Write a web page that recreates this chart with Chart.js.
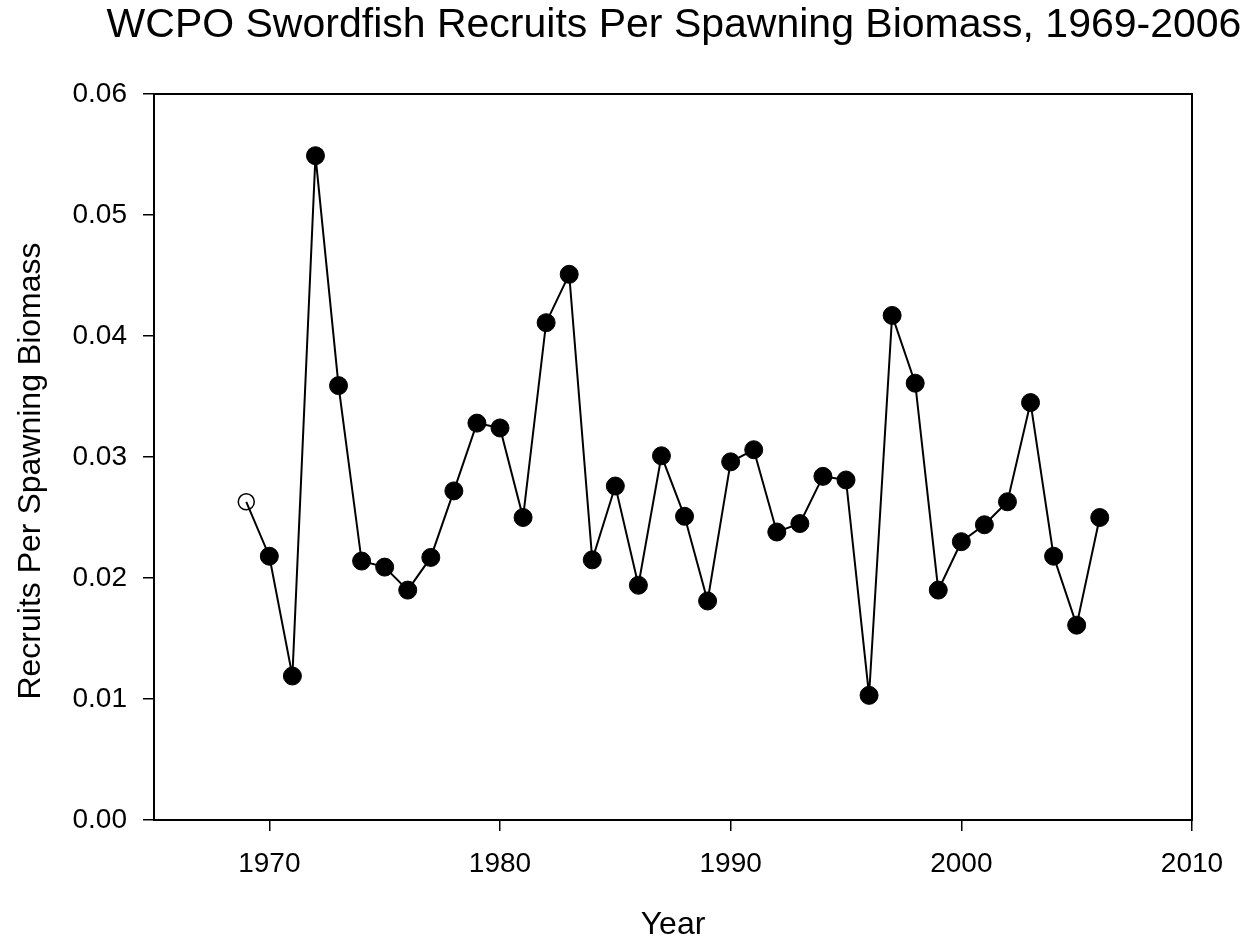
<!DOCTYPE html>
<html>
<head>
<meta charset="utf-8">
<script src="https://cdn.jsdelivr.net/npm/chart.js@4.4.1/dist/chart.umd.min.js"></script>
<style>
  body { margin: 0; background: #fff; }
  #wrap { width: 1253px; height: 944px; }
</style>
</head>
<body>
<div id="wrap"><canvas id="rpsChart" width="1253" height="944"></canvas></div>
<script>
const years = [1969, 1970, 1971, 1972, 1973, 1974, 1975, 1976, 1977, 1978,
  1979, 1980, 1981, 1982, 1983, 1984, 1985, 1986, 1987, 1988,
  1989, 1990, 1991, 1992, 1993, 1994, 1995, 1996, 1997, 1998,
  1999, 2000, 2001, 2002, 2003, 2004, 2005, 2006];
const recruitsPerSB = [0.0263, 0.0218, 0.0119, 0.0549, 0.0359, 0.0214, 0.0209, 0.0190, 0.0217, 0.0272,
  0.0328, 0.0324, 0.0250, 0.0411, 0.0451, 0.0215, 0.0276, 0.0194, 0.0301, 0.0251,
  0.0181, 0.0296, 0.0306, 0.0238, 0.0245, 0.0284, 0.0281, 0.0103, 0.0417, 0.0361,
  0.0190, 0.0230, 0.0244, 0.0263, 0.0345, 0.0218, 0.0161, 0.0250];
// first year is shown as an open circle
const openYears = [1969];

const chartTitle = 'WCPO Swordfish Recruits Per Spawning Biomass, 1969-2006';
const xTitle = 'Year';
const yTitle = 'Recruits Per Spawning Biomass';
const FONT = '"Liberation Sans", Arial, sans-serif';

// box around the plot, chart title and y axis title
const framePlugin = {
  id: 'frame',
  afterDraw(chart) {
    const { ctx, chartArea } = chart;
    ctx.save();
    ctx.strokeStyle = '#000';
    ctx.lineWidth = 2;
    ctx.strokeRect(chartArea.left, chartArea.top, chartArea.right - chartArea.left, chartArea.bottom - chartArea.top);
    ctx.fillStyle = '#000';
    ctx.font = `41px ${FONT}`;
    ctx.textAlign = 'center';
    ctx.textBaseline = 'alphabetic';
    ctx.fillText(chartTitle, (chartArea.left + chartArea.right) / 2 + 1, 37);

    ctx.font = `32px ${FONT}`;
    ctx.translate(40, (chartArea.top + chartArea.bottom) / 2 + 14);
    ctx.rotate(-Math.PI / 2);
    ctx.fillText(yTitle, 0, 0);
    ctx.restore();
  },
};

const points = years.map((yr, i) => ({ x: yr, y: recruitsPerSB[i] }));

const ctx = document.getElementById('rpsChart').getContext('2d');
const rpsChart = new Chart(ctx, {
  type: 'line',
  data: {
    datasets: [
      {
        data: points,
        borderColor: '#000',
        borderWidth: 2,
        tension: 0,
        pointRadius: (c) => (openYears.includes(years[c.dataIndex]) ? 8 : 9),
        pointBackgroundColor: (c) => (openYears.includes(years[c.dataIndex]) ? 'rgba(0,0,0,0)' : '#000'),
        pointBorderColor: '#000',
        pointBorderWidth: (c) => (openYears.includes(years[c.dataIndex]) ? 1.5 : 1),
      },
    ],
  },
  options: {
    responsive: false,
    devicePixelRatio: 1,
    animation: false,
    layout: {
      padding: { top: 94, right: 61, left: 0, bottom: 0 },
    },
    scales: {
      x: {
        type: 'linear',
        min: 1965,
        max: 2010,
        afterFit: (scale) => { scale.height = 124; },
        border: { display: true, color: '#000', width: 2 },
        grid: { drawOnChartArea: false, drawTicks: true, tickLength: 11, color: '#000', lineWidth: 1.5 },
        ticks: {
          stepSize: 10,
          includeBounds: false,
          color: '#000',
          font: { family: FONT, size: 28 },
          padding: 16,
          maxRotation: 0,
          callback: (v) => String(v),
        },
        title: {
          display: true,
          text: xTitle,
          color: '#000',
          font: { family: FONT, size: 32, lineHeight: 1.2 },
          padding: { top: 0, bottom: 0 },
        },
      },
      y: {
        min: 0,
        max: 0.06,
        afterFit: (scale) => { scale.width = 154; },
        border: { display: true, color: '#000', width: 2 },
        grid: { drawOnChartArea: false, drawTicks: true, tickLength: 11, color: '#000', lineWidth: 1.5 },
        ticks: {
          stepSize: 0.01,
          color: '#000',
          font: { family: FONT, size: 28 },
          padding: 16,
          callback: (v) => v.toFixed(2),
        },
      },
    },
    plugins: {
      legend: { display: false },
      tooltip: { enabled: false },
    },
  },
  plugins: [framePlugin],
});
</script>
</body>
</html>
